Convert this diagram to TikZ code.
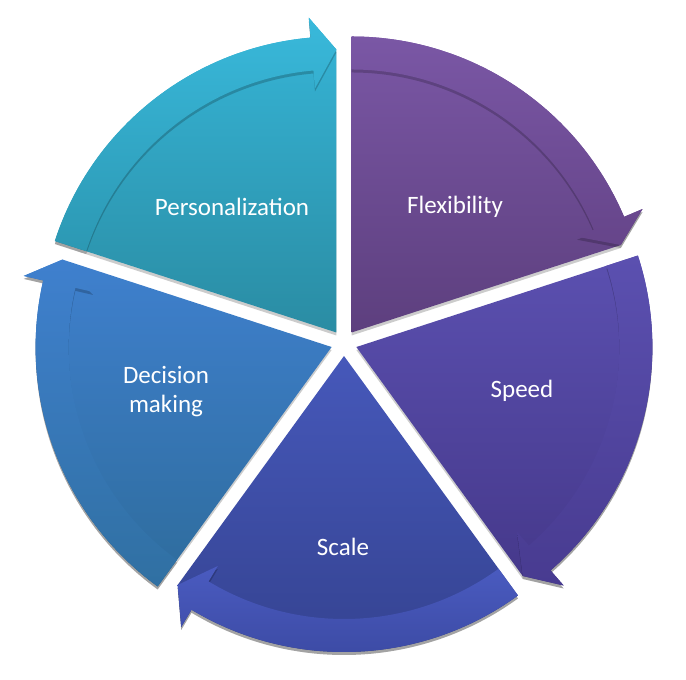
\documentclass[tikz,border=0pt]{standalone}
\usepackage{fontspec}
\setmainfont{Carlito}
\usetikzlibrary{calc,shadows}

\definecolor{persTop}{HTML}{36B5D7}
\definecolor{persBot}{HTML}{2A8CA3}
\definecolor{persBandTop}{HTML}{39B9DB}
\definecolor{persBandBot}{HTML}{2C98B3}
\definecolor{flexTop}{HTML}{7A57A5}
\definecolor{flexBot}{HTML}{5D3F7E}
\definecolor{flexBandBot}{HTML}{66458A}
\definecolor{speedTop}{HTML}{5B50B0}
\definecolor{speedBot}{HTML}{45388A}
\definecolor{speedBandBot}{HTML}{483B90}
\definecolor{scaleTop}{HTML}{4658BA}
\definecolor{scaleBot}{HTML}{34428F}
\definecolor{scaleBandTop}{HTML}{4A5BC0}
\definecolor{scaleBandBot}{HTML}{3A48A0}
\definecolor{decTop}{HTML}{3F80CE}
\definecolor{decBot}{HTML}{2E6C9C}
\definecolor{decBandBot}{HTML}{3070A2}

\tikzset{
  segshadow/.style ={drop shadow={shadow xshift=0pt, shadow yshift=-3pt,
                     opacity=.2, fill=black}},
  seglabel/.style  ={text=white, align=center,
                     font=\fontsize{25}{29}\selectfont},
}

% #1 start angle, #2 head angle, #3/#4 body top/bottom, #5/#6 band top/bottom
\newcommand{\cycseg}[6]{%
  \begin{scope}[shift={({(#1+#2)/2}:13pt)}]
    \shade[segshadow, top color=#3, bottom color=#4]
      (0,0) -- (#1:296pt) arc[start angle=#1, end angle=#2+5, radius=296pt]
      -- (#2+5:316pt) -- (#2:283pt) -- cycle;
    \shade[segshadow, top color=#5, bottom color=#6]
      (#1:296pt) arc[start angle=#1, end angle=#2+5, radius=296pt]
      -- (#2+5:316pt) -- (#2:283pt) -- (#2+5:245pt) -- (#2+5:263pt)
      arc[start angle=#2+5, end angle=#1, radius=263pt] -- cycle;
  \end{scope}}

\begin{document}
\begin{tikzpicture}[x=1pt, y=1pt]
  \useasboundingbox (-344,-337) rectangle (342,343);

  \cycseg{162}{90}{persTop}{persBot}{persBandTop}{persBandBot}
  \cycseg{90}{18}{flexTop}{flexBot}{flexTop}{flexBandBot}
  \cycseg{18}{-54}{speedTop}{speedBot}{speedTop}{speedBandBot}
  \cycseg{-54}{-126}{scaleTop}{scaleBot}{scaleBandTop}{scaleBandBot}
  \cycseg{234}{162}{decTop}{decBot}{decTop}{decBandBot}

  \node[seglabel] (pers)  at (-112,136) {Personalization};
  \node[seglabel] (flex)  at (111,136)  {Flexibility};
  \node[seglabel] (speed) at (178,-48)  {Speed};
  \node[seglabel] (scale) at (-1,-204)  {Scale};
  \node[seglabel] (dec)   at (-178,-49) {Decision\\making};
\end{tikzpicture}
\end{document}
